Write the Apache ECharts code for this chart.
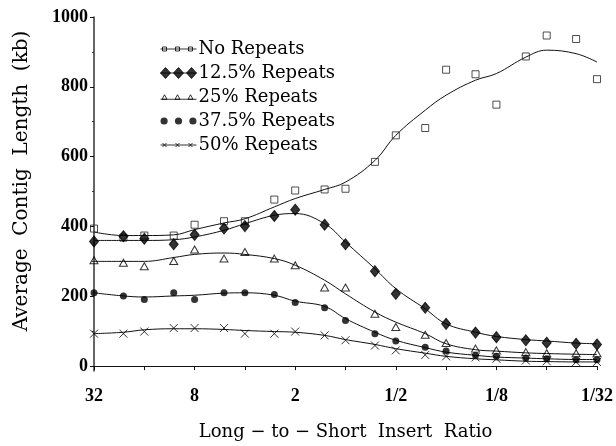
<!DOCTYPE html>
<html>
<head>
<meta charset="utf-8">
<script src="https://cdn.jsdelivr.net/npm/echarts@6/dist/echarts.min.js"></script>
<style>
  html, body { margin: 0; padding: 0; background: #fff; }
  #chart { width: 616px; height: 446px; }
</style>
</head>
<body>
<div id="chart"></div>
<script>
// long-to-short insert ratios (x), one per simulation run
const ratios = [32, 64 / 3, 16, 32 / 3, 8, 16 / 3, 4, 8 / 3, 2, 4 / 3, 1, 2 / 3,
  1 / 2, 1 / 3, 1 / 4, 1 / 6, 1 / 8, 1 / 12, 1 / 16, 1 / 24, 1 / 32];

// measured average contig length (kb)
const noRepeats = [394, 368, 374, 374, 405, 415, 415, 477, 503, 506, 508, 585, 661, 682, 849, 836, 749, 887, 947, 937, 822];
const repeats125 = [357, 372, 365, 349, 376, 394, 401, 430, 448, 405, 349, 272, 207, 167, 121, 96, 83, 74, 67, 64, 62];
const repeats25 = [303, 296, 286, 301, 334, 308, 327, 308, 289, 225, 225, 150, 112, 90, 66, 50, 45, 40, 37, 37, 37];
const repeats375 = [210, 201, 191, 210, 191, 210, 210, 205, 182, 167, 131, 93, 72, 54, 43, 31, 28, 23, 21, 18, 18];
const repeats50 = [93, 93, 99, 109, 109, 109, 93, 93, 99, 88, 74, 59, 45, 32, 28, 25, 21, 16, 14, 12, 12];

// smoothed trend curves at the same ratios
const noRepeatsFit = [384, 374, 374, 376, 391, 410, 422, 456, 480, 506, 527, 589, 661, 733, 776, 819, 838, 885, 905, 895, 871];
const repeats125Fit = [360, 360, 360, 362, 370, 389, 408, 432, 437, 408, 355, 279, 222, 164, 121, 97, 85, 76, 72, 66, 64];
const repeats25Fit = [300, 300, 300, 311, 320, 324, 320, 308, 289, 246, 207, 155, 126, 93, 64, 47, 43, 38, 36, 34, 33];
const repeats375Fit = [210, 201, 198, 201, 203, 209, 210, 203, 186, 171, 136, 97, 74, 53, 40, 31, 26, 23, 21, 19, 19];
const repeats50Fit = [93, 97, 104, 107, 107, 105, 102, 99, 97, 88, 76, 62, 50, 37, 28, 21, 18, 14, 13, 12, 12];

const yLabels = [0, 200, 400, 600, 800, 1000];
const yMinor = [100, 300, 500, 700, 900];

const serifFont = "'DejaVu Serif', serif";
const boldFont = "'Liberation Serif', serif";

const pairs = (ys) => ratios.map((r, i) => [r, ys[i]]);

const ratioLabel = (v) => {
  const e = Math.round(Math.log2(v));
  if (e % 2 === 0) return "";
  return e >= 0 ? String(Math.pow(2, e)) : "1/" + Math.pow(2, -e);
};

const crossPath = "path://M0,0L10,10M10,0L0,10";

const hollow = { color: "rgba(255,255,255,0)", borderColor: "#000", borderWidth: 1 };
const solid = { color: "#000", borderColor: "#000", borderWidth: 1 };

const markerSeries = [
  { name: "No Repeats", data: noRepeats, symbol: "rect", symbolSize: 7, itemStyle: { ...hollow, borderColor: "#222" } },
  { name: "12.5% Repeats", data: repeats125, symbol: "diamond", symbolSize: [9, 11], itemStyle: solid },
  { name: "25% Repeats", data: repeats25, symbol: "triangle", symbolSize: [8, 7], itemStyle: hollow },
  { name: "37.5% Repeats", data: repeats375, symbol: "circle", symbolSize: 7, itemStyle: { color: "#000", borderWidth: 0 } },
  { name: "50% Repeats", data: repeats50, symbol: crossPath, symbolSize: 8, itemStyle: hollow },
];

const fitSeries = [noRepeatsFit, repeats125Fit, repeats25Fit, repeats375Fit, repeats50Fit];

const legendIcons = [
  { icon: "path://M0,6L36,6M2,4L6,4L6,8L2,8ZM15,4L19,4L19,8L15,8ZM28,4L32,4L32,8L28,8Z", itemStyle: hollow },
  { icon: "path://M0,6L36,6M5,0.5L10,6L5,11.5L0,6ZM18,0.5L23,6L18,11.5L13,6ZM31,0.5L36,6L31,11.5L26,6Z", itemStyle: solid },
  { icon: "path://M0,8L36,8M4,3.5L6.5,8L1.5,8ZM17,3.5L19.5,8L14.5,8ZM30,3.5L32.5,8L27.5,8Z", itemStyle: hollow },
  { icon: "path://M0.5,6a3.5,3.5 0 1,0 7,0a3.5,3.5 0 1,0 -7,0ZM14.5,6a3.5,3.5 0 1,0 7,0a3.5,3.5 0 1,0 -7,0ZM28.5,6a3.5,3.5 0 1,0 7,0a3.5,3.5 0 1,0 -7,0Z", itemStyle: { color: "#000", borderWidth: 0 } },
  { icon: "path://M0,6L36,6M2,4L6,8M6,4L2,8M15,4L19,8M19,4L15,8M28,4L32,8M32,4L28,8", itemStyle: hollow },
];

const chart = echarts.init(document.getElementById("chart"));

const option = {
  animation: false,
  backgroundColor: "#fff",
  grid: { left: 94, right: 16, top: 17, bottom: 75 },
  legend: {
    left: 155,
    top: 35,
    orient: "vertical",
    itemWidth: 36,
    itemHeight: 12,
    itemGap: 6,
    selectedMode: false,
    textStyle: { fontFamily: serifFont, fontSize: 18, color: "#000", padding: [0, 0, 0, -3] },
    data: markerSeries.map((s, i) => ({ name: s.name, ...legendIcons[i] })),
  },
  xAxis: {
    type: "log",
    logBase: 2,
    min: 1 / 32,
    max: 32,
    interval: 1,
    inverse: true,
    name: "Long \u2212 to \u2212 Short  Insert  Ratio",
    nameLocation: "middle",
    nameGap: 52,
    nameTextStyle: { fontFamily: serifFont, fontSize: 18, color: "#000" },
    axisLine: { lineStyle: { color: "#111", width: 1 } },
    axisTick: { length: 4, lineStyle: { color: "#111" } },
    axisLabel: {
      margin: 16,
      formatter: ratioLabel,
      fontFamily: boldFont,
      fontWeight: "bold",
      fontSize: 18,
      color: "#000",
    },
    splitLine: { show: false },
  },
  yAxis: [
    {
      type: "value",
      min: -14,
      max: 1000,
      position: "left",
      name: "Average  Contig  Length  (kb)",
      nameLocation: "middle",
      nameGap: 62,
      nameTextStyle: { fontFamily: serifFont, fontSize: 20, color: "#000", padding: [0, 0, 0, 26] },
      axisLine: { show: true, lineStyle: { color: "#333", width: 1.5 } },
      axisTick: { show: true, length: 4, customValues: yLabels, lineStyle: { color: "#111" } },
      axisLabel: {
        customValues: yLabels,
        formatter: (v) => String(v),
        margin: 6,
        fontFamily: boldFont,
        fontWeight: "bold",
        fontSize: 18,
        color: "#000",
      },
      splitLine: { show: false },
    },
    {
      type: "value",
      min: -14,
      max: 1000,
      position: "left",
      axisLine: { show: false },
      axisTick: { show: true, length: 2, customValues: yMinor, lineStyle: { color: "#333" } },
      axisLabel: { show: false },
      splitLine: { show: false },
    },
  ],
  series: [
    ...fitSeries.map((ys, i) => ({
      name: "fit" + i,
      type: "line",
      data: pairs(ys),
      smooth: 0.4,
      showSymbol: false,
      lineStyle: { color: "#111", width: 1 },
      z: 2,
      silent: true,
    })),
    ...markerSeries.map((s) => ({
      name: s.name,
      type: "scatter",
      data: pairs(s.data),
      symbol: s.symbol,
      symbolSize: s.symbolSize,
      itemStyle: s.itemStyle,
      z: 3,
    })),
  ],
};

chart.setOption(option);
</script>
</body>
</html>
